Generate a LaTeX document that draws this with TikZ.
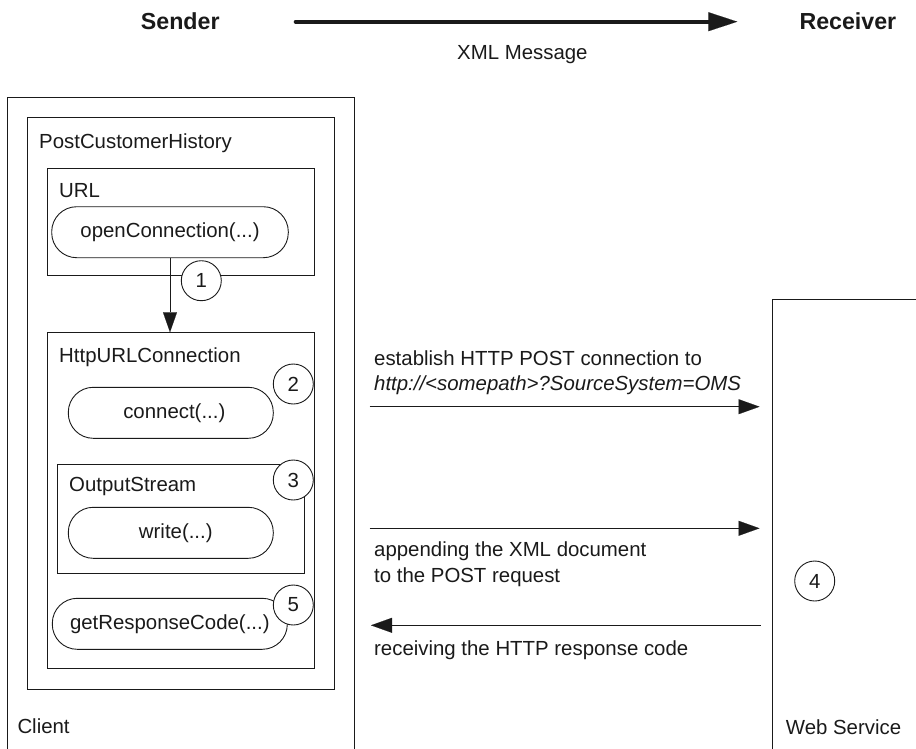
\documentclass[tikz,border=0pt]{standalone}
\usepackage{fontspec}
\setmainfont{Liberation Sans}
\usetikzlibrary{arrows.meta}
\definecolor{ink}{HTML}{1A1A1A}
\begin{document}
\begin{tikzpicture}[x=1pt,y=-1pt,
  every node/.style={font=\fontsize{20.4}{24}\selectfont, inner sep=0pt, text=ink},
  lbl/.style={anchor=base west},
  title/.style={font=\fontsize{23.2}{28}\selectfont\bfseries, anchor=base west},
  box/.style={draw=ink, line width=0.9pt, inner sep=0pt},
  frame/.style={draw=ink, line width=0.9pt},
  pill/.style={draw=ink, line width=0.9pt, rounded corners=25pt, minimum height=51pt},
  num/.style={draw=ink, circle, fill=white, line width=0.9pt, minimum size=40pt},
  msg/.style={draw=ink, line width=0.9pt, -{Triangle[length=21pt,width=15pt,line width=0.1pt]}},
  big/.style={draw=ink, line width=4pt, line cap=round, -{Triangle[length=29pt,width=19pt,line width=0.1pt]}}]
\path[use as bounding box] (0,0) rectangle (916,748);

% top header
\node[title] (sender) at (140.7,29.3) {Sender};
\node[title] (receiver) at (799.3,29.3) {Receiver};
\coordinate (xs) at (295.7,21.7);
\coordinate (xe) at (737.3,21.7);
\draw[big] (xs) -- (xe);
\node[lbl] (xmlmsg) at (457,59) {XML Message};

% client frame
\draw[frame] (7,749) -- (7,97) -- (354,97) -- (354,749);
\node[lbl] (client) at (17.3,733.3) {Client};

% web service frame
\draw[frame] (772.7,749) -- (772.7,299.3) -- (917,299.3);
\node[lbl] (ws) at (785.7,734) {Web Service};

% PostCustomerHistory
\node[box, minimum width=307pt, minimum height=572pt] (post) at (180.5,403) {};
\node[lbl] (postlbl) at (39,148) {PostCustomerHistory};

% URL
\node[box, minimum width=266.3pt, minimum height=106.6pt] (url) at (180.85,222) {};
\node[lbl] (urllbl) at (59,197.3) {URL};
\node[pill, minimum width=236.6pt] (oc) at (170,232.2) {openConnection(...)};

% HttpURLConnection
\node[box, minimum width=266.3pt, minimum height=336pt] (http) at (180.85,500.7) {};
\node[lbl] (httplbl) at (59,362.7) {HttpURLConnection};
\node[pill, minimum width=205pt] (conn) at (170.8,412.8) {\hspace*{7pt}connect(...)};

% OutputStream
\node[box, minimum width=246.3pt, minimum height=109.7pt] (os) at (180.85,518.85) {};
\node[lbl] (oslbl) at (69,491.7) {OutputStream};
\node[pill, minimum width=205pt] (write) at (170.8,532.8) {\hspace*{10pt}write(...)};

\node[pill, minimum width=235pt] (grc) at (169.8,623.8) {getResponseCode(...)};

% arrow URL -> HttpURLConnection
\draw[draw=ink, line width=0.9pt, -{Triangle[length=20pt,width=14pt,line width=0.1pt]}] (oc.south) -- (oc.south |- http.north);

% step numbers
\node[num] (n1) at (201.3,280.7) {1};
\node[num] (n2) at (293.3,384) {2};
\node[num] (n3) at (293.3,480) {3};
\node[num] (n5) at (293.3,605) {5};
\node[num] (n4) at (814.7,581) {4};

% messages
\coordinate (m1s) at (369.5,406.7);
\coordinate (m1e) at (759.5,406.7);
\draw[msg] (m1s) -- (m1e);
\node[lbl] (l1a) at (374,365) {establish HTTP POST connection to};
\node[lbl] (l1b) at (374,390.5) {\itshape http://<somepath>?SourceSystem=OMS};

\coordinate (m2s) at (369.5,528.3);
\coordinate (m2e) at (759.5,528.3);
\draw[msg] (m2s) -- (m2e);
\node[lbl] (l2a) at (374,556.7) {appending the XML document};
\node[lbl] (l2b) at (374,582.7) {to the POST request};

\coordinate (m3s) at (760.7,625.3);
\coordinate (m3e) at (371,625.3);
\draw[msg] (m3s) -- (m3e);
\node[lbl] (l3) at (374,655) {receiving the HTTP response code};
\end{tikzpicture}
\end{document}
